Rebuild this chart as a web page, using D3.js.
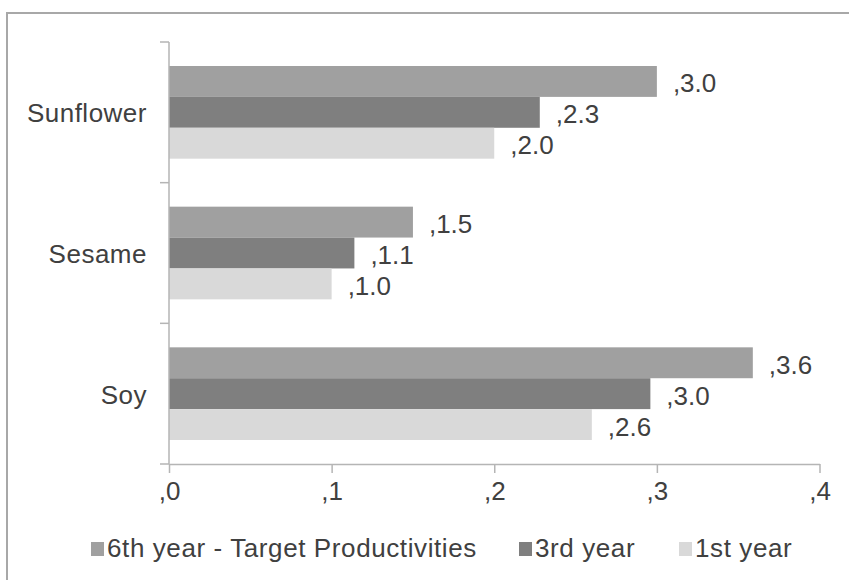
<!DOCTYPE html>
<html>
<head>
<meta charset="utf-8">
<script src="https://cdn.jsdelivr.net/npm/d3@7"></script>
<style>
  body { margin: 0; background: #fff; }
  svg { display: block; }
  text { font-family: "Liberation Sans", Arial, sans-serif; fill: #404040; }
</style>
</head>
<body>
<svg id="chart" width="849" height="580"></svg>
<script>
// Oilseed productivity by crop and year
const categories = ["Sunflower", "Sesame", "Soy"];
const seriesNames = ["6th year - Target Productivities", "3rd year", "1st year"];
const sixthYear = [3.0, 1.5, 3.59];
const thirdYear = [2.28, 1.14, 2.96];
const firstYear = [2.0, 1.0, 2.6];
const xTicks = [0, 1, 2, 3, 4];
const colors = ["#a0a0a0", "#7f7f7f", "#d9d9d9"];

const seriesValues = [sixthYear, thirdYear, firstYear];
const rows = [];
categories.forEach((c, i) => {
  seriesNames.forEach((s, j) => rows.push({ cat: c, series: s, value: seriesValues[j][i], k: j }));
});

const svg = d3.select("#chart");
const W = 849, H = 580;

// outer frame (cut off on the right and bottom)
svg.append("path")
  .attr("d", `M7,${H} V13 H${W}`)
  .attr("fill", "none")
  .attr("stroke", "#a8a8a8")
  .attr("stroke-width", 2);

const x = d3.scaleLinear().domain([0, 4]).range([169, 819.5]);
const y0 = d3.scaleBand().domain(categories).range([42, 464]).padding(0);
const y1 = d3.scaleBand().domain(seriesNames).range([24, y0.bandwidth() - 24]).padding(0);
const color = d3.scaleOrdinal().domain(seriesNames).range(colors);

const axisColor = "#b5b5b5";
const fs = 26;

// bars
svg.append("g").selectAll("rect")
  .data(rows)
  .join("rect")
  .attr("x", x(0))
  .attr("y", d => y0(d.cat) + y1(d.series))
  .attr("width", d => x(d.value) - x(0))
  .attr("height", y1.bandwidth())
  .attr("fill", d => color(d.series));

// value labels
svg.append("g").selectAll("text")
  .data(rows)
  .join("text")
  .attr("x", d => x(d.value) + 16)
  .attr("y", d => y0(d.cat) + y1(d.series) + y1.bandwidth() / 2 + 11)
  .attr("font-size", fs)
  .text(d => "," + d.value.toFixed(1));

// x axis
const xAxis = svg.append("g")
  .attr("transform", `translate(0,${y0.range()[1]})`)
  .call(d3.axisBottom(x).tickValues(xTicks).tickSize(9).tickSizeOuter(0).tickFormat(d => "," + d));
xAxis.attr("font-family", null).attr("font-size", null);
xAxis.select(".domain").attr("stroke", axisColor).attr("stroke-width", 1.5);
xAxis.selectAll(".tick line").attr("stroke", axisColor).attr("stroke-width", 1.5);
xAxis.selectAll(".tick text")
  .attr("font-size", fs)
  .attr("fill", "#404040")
  .attr("dy", null)
  .attr("y", 36);

// category axis with boundary ticks
const yAxis = svg.append("g");
yAxis.append("line")
  .attr("x1", x(0)).attr("x2", x(0))
  .attr("y1", y0.range()[0]).attr("y2", y0.range()[1])
  .attr("stroke", axisColor).attr("stroke-width", 1.5);
const bounds = categories.map(c => y0(c)).concat([y0.range()[1]]);
yAxis.selectAll("line.b")
  .data(bounds)
  .join("line")
  .attr("class", "b")
  .attr("x1", x(0) - 9).attr("x2", x(0))
  .attr("y1", d => d).attr("y2", d => d)
  .attr("stroke", axisColor).attr("stroke-width", 1.5);
yAxis.selectAll("text")
  .data(categories)
  .join("text")
  .attr("x", 147)
  .attr("y", d => y0(d) + y0.bandwidth() / 2 + 10)
  .attr("text-anchor", "end")
  .attr("font-size", fs)
  .attr("letter-spacing", 0.5)
  .text(d => d);

// legend
const legendX = [91, 519, 679];
const legend = svg.append("g").selectAll("g")
  .data(seriesNames)
  .join("g")
  .attr("transform", (d, i) => `translate(${legendX[i]},0)`);
legend.append("rect")
  .attr("x", 0).attr("y", 542)
  .attr("width", 13).attr("height", 14)
  .attr("fill", d => color(d));
legend.append("text")
  .attr("x", 16).attr("y", 557)
  .attr("font-size", fs)
  .attr("letter-spacing", 0.6)
  .text(d => d);
</script>
</body>
</html>
